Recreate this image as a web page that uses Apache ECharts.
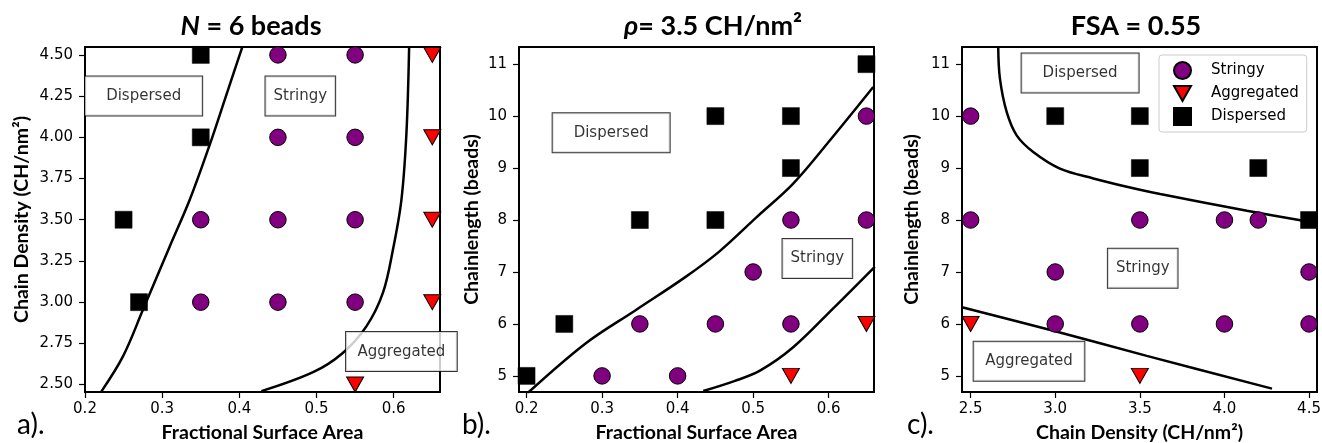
<!DOCTYPE html>
<html><head><meta charset="utf-8">
<script src="https://cdn.jsdelivr.net/npm/echarts@6/dist/echarts.min.js"></script>
<style>html,body{margin:0;padding:0;background:#fff}#c{width:1322px;height:443px}</style>
</head><body><div id="c"></div>
<script>
// ---- Panel a: N = 6 beads (x: fractional surface area, y: chain density)
const aStringy = [[0.45,4.5],[0.55,4.5],[0.45,4.0],[0.55,4.0],[0.35,3.5],[0.45,3.5],[0.55,3.5],[0.35,3.0],[0.45,3.0],[0.55,3.0]];
const aAggregated = [[0.65,4.5],[0.65,4.0],[0.65,3.5],[0.65,3.0],[0.55,2.5]];
const aDispersed = [[0.35,4.5],[0.35,4.0],[0.25,3.5],[0.27,3.0]];
const aBoundaryDisp = [[0.2213,2.459],[0.2492,2.671],[0.2752,2.955],[0.3098,3.338],[0.3357,3.621],[0.3616,3.955],[0.3832,4.258],[0.404,4.55]];
const aBoundaryAgg = [[0.4286,2.46],[0.4955,2.575],[0.534,2.692],[0.5646,2.853],[0.586,3.056],[0.599,3.318],[0.610,3.621],[0.6165,4.025],[0.62,4.548]];
const aNotes = [['Dispersed',0.276,4.25],['Stringy',0.479,4.25],['Aggregated',0.61,2.70]];
const aXTicks = [0.2,0.3,0.4,0.5,0.6];
const aYTicks = [2.5,2.75,3.0,3.25,3.5,3.75,4.0,4.25,4.5];

// ---- Panel b: rho = 3.5 CH/nm2 (x: fractional surface area, y: chain length)
const bStringy = [[0.3,5],[0.4,5],[0.35,6],[0.45,6],[0.55,6],[0.5,7],[0.55,8],[0.65,8],[0.65,10]];
const bAggregated = [[0.55,5],[0.65,6]];
const bDispersed = [[0.2,5],[0.25,6],[0.35,8],[0.45,8],[0.45,10],[0.55,10],[0.55,9],[0.65,11]];
const bBoundaryDisp = [[0.2008,4.661],[0.2781,5.624],[0.3444,6.265],[0.4106,6.906],[0.4547,7.387],[0.505,8.06],[0.553,8.70],[0.602,9.54],[0.659,10.56]];
const bBoundaryAgg = [[0.434,4.71],[0.475,4.90],[0.509,5.10],[0.553,5.55],[0.606,6.30],[0.661,7.10]];
const bNotes = [['Dispersed',0.312,9.68],['Stringy',0.585,7.26]];
const bXTicks = [0.2,0.3,0.4,0.5,0.6];
const bYTicks = [5,6,7,8,9,10,11];

// ---- Panel c: FSA = 0.55 (x: chain density, y: chain length)
const cStringy = [[2.5,10],[2.5,8],[3.0,7],[3.0,6],[3.5,8],[3.5,6],[4.0,8],[4.0,6],[4.2,8],[4.5,7],[4.5,6]];
const cAggregated = [[2.5,6],[3.5,5]];
const cDispersed = [[3.0,10],[3.5,10],[3.5,9],[4.2,9],[4.5,8]];
const cBoundaryDisp = [[2.663,11.334],[2.673,10.725],[2.713,10.08],[2.772,9.63],[2.870,9.31],[3.028,8.99],[3.225,8.80],[3.423,8.64],[3.620,8.50],[4.133,8.18],[4.508,7.96]];
const cBoundaryAgg = [[2.449,6.32],[2.989,5.87],[3.541,5.386],[4.281,4.755]];
const cNotes = [['Dispersed',3.147,10.83],['Stringy',3.517,7.07],['Aggregated',2.845,5.28]];
const cXTicks = [2.5,3.0,3.5,4.0,4.5];
const cYTicks = [5,6,7,8,9,10,11];

const legendNames = ['Stringy','Aggregated','Dispersed'];

// ---- styles
const TXT = '#000';
const padH = {Dispersed: 21, Stringy: 8, Aggregated: 11.5};
const grids = [
  {left: 85, top: 47, width: 355, height: 345},
  {left: 519, top: 47, width: 355, height: 345},
  {left: 962, top: 47, width: 355, height: 345}
];
const nameFont = {fontFamily: 'Lato', fontWeight: 'bold', fontSize: 19.5, color: TXT};
const tickFont = {fontFamily: 'DejaVu Sans', fontSize: 15, color: TXT};

function xAxis(idx, min, max, ticks, name, dec) {
  return {
    type: 'value', gridIndex: idx, min: min, max: max,
    name: name, nameLocation: 'middle', nameGap: 31, nameTextStyle: nameFont,
    axisLine: {show: false},
    splitLine: {show: false},
    axisTick: {show: true, length: 6, lineStyle: {color: '#000', width: 1.2}, customValues: ticks},
    axisLabel: {show: true, margin: 10, ...tickFont, customValues: ticks, formatter: v => v.toFixed(dec)}
  };
}
function yAxis(idx, min, max, ticks, name, dec, gap) {
  return {
    type: 'value', gridIndex: idx, min: min, max: max,
    name: name, nameLocation: 'middle', nameGap: gap, nameTextStyle: nameFont,
    axisLine: {show: false},
    splitLine: {show: false},
    axisTick: {show: true, length: 6, lineStyle: {color: '#000', width: 1.2}, customValues: ticks},
    axisLabel: {show: true, margin: 12, ...tickFont, customValues: ticks, formatter: v => v.toFixed(dec)}
  };
}

function panelSeries(idx, stringy, agg, disp, bDisp, bAgg, notes) {
  const ax = {xAxisIndex: idx, yAxisIndex: idx};
  const line = d => ({type: 'line', ...ax, data: d, smooth: 0.35, symbol: 'none', clip: true,
    lineStyle: {color: '#000', width: 2.5}, z: 2, silent: true});
  return [
    line(bDisp), line(bAgg),
    {type: 'scatter', name: 'Stringy', ...ax, data: stringy, symbol: 'circle', symbolSize: 16.5,
      itemStyle: {color: '#800080', borderColor: '#000', borderWidth: 1, opacity: 1}, z: 3},
    {type: 'scatter', name: 'Aggregated', ...ax, data: agg, symbol: 'triangle', symbolSize: [17, 15], symbolRotate: 180,
      itemStyle: {color: '#ff0000', borderColor: '#000', borderWidth: 1, opacity: 1}, z: 3},
    {type: 'scatter', name: 'Dispersed', ...ax, data: disp, symbol: 'rect', symbolSize: 17,
      itemStyle: {color: '#000', borderColor: '#000', borderWidth: 0.5, opacity: 1}, z: 3},
    {type: 'scatter', ...ax, symbolSize: 0, silent: true, z: 5,
      data: notes.map(n => ({name: n[0], value: [n[1], n[2]],
        label: {padding: [10.5, padH[n[0]], 10.5, padH[n[0]]]}})),
      label: {show: true, position: 'inside', formatter: '{b}', fontFamily: 'DejaVu Sans', fontSize: 15,
        lineHeight: 18, color: TXT, backgroundColor: '#fff', borderColor: '#000', borderWidth: 1},
      emphasis: {disabled: true}}
  ];
}

const titleStyle = {fontFamily: 'Lato', fontWeight: 'bold', fontSize: 27, color: TXT,
  rich: {i: {fontFamily: 'Lato', fontWeight: 'bold', fontStyle: 'italic', fontSize: 27, color: TXT}}};

const option = {
  backgroundColor: '#fff',
  animation: false,
  title: [
    {text: '{i|N} = 6 beads', left: 251, top: 13, textAlign: 'center', padding: 0, textStyle: titleStyle},
    {text: '{i|ρ}= 3.5 CH/nm²', left: 713, top: 13, textAlign: 'center', padding: 0, textStyle: titleStyle},
    {text: 'FSA = 0.55', left: 1136, top: 13, textAlign: 'center', padding: 0, textStyle: titleStyle}
  ],
  grid: grids.map(g => ({...g, show: true, borderColor: '#000', borderWidth: 2, backgroundColor: 'transparent',
    containLabel: false, outerBoundsMode: 'none'})),
  xAxis: [
    xAxis(0, 0.2, 0.66, aXTicks, 'Fractional Surface Area', 1),
    xAxis(1, 0.19, 0.66, bXTicks, 'Fractional Surface Area', 1),
    xAxis(2, 2.449, 4.547, cXTicks, 'Chain Density (CH/nm²)', 1)
  ],
  yAxis: [
    yAxis(0, 2.455, 4.548, aYTicks, 'Chain Density (CH/nm²)', 2, 53.5),
    yAxis(1, 4.69, 11.33, bYTicks, 'Chainlength (beads)', 0, 37),
    yAxis(2, 4.69, 11.33, cYTicks, 'Chainlength (beads)', 0, 40.5)
  ],
  legend: {
    data: [
      {name: 'Stringy'},
      {name: 'Aggregated', icon: 'path://M0,0L17,0L8.5,15Z'},
      {name: 'Dispersed'}
    ],
    orient: 'vertical', left: 1159, top: 55,
    itemWidth: 17, itemHeight: 17, itemGap: 5,
    padding: [6, 8, 6, 14],
    backgroundColor: 'rgba(255,255,255,0.8)', borderColor: '#ccc', borderWidth: 1, borderRadius: 3,
    formatter: n => '{g|}' + n,
    textStyle: {fontFamily: 'DejaVu Sans', fontSize: 15, color: TXT, rich: {g: {width: 15}}},
    selectedMode: false
  },
  graphic: [
    {type: 'text', left: 17, top: 411, style: {text: 'a).', font: '28px Lato', fill: TXT}},
    {type: 'text', left: 462, top: 411, style: {text: 'b).', font: '28px Lato', fill: TXT}},
    {type: 'text', left: 907, top: 411, style: {text: 'c).', font: '28px Lato', fill: TXT}}
  ],
  series: [
    ...panelSeries(0, aStringy, aAggregated, aDispersed, aBoundaryDisp, aBoundaryAgg, aNotes),
    ...panelSeries(1, bStringy, bAggregated, bDispersed, bBoundaryDisp, bBoundaryAgg, bNotes),
    ...panelSeries(2, cStringy, cAggregated, cDispersed, cBoundaryDisp, cBoundaryAgg, cNotes)
  ]
};
const chart = echarts.init(document.getElementById('c'), null, {renderer: 'canvas'});
chart.setOption(option);
</script></body></html>
